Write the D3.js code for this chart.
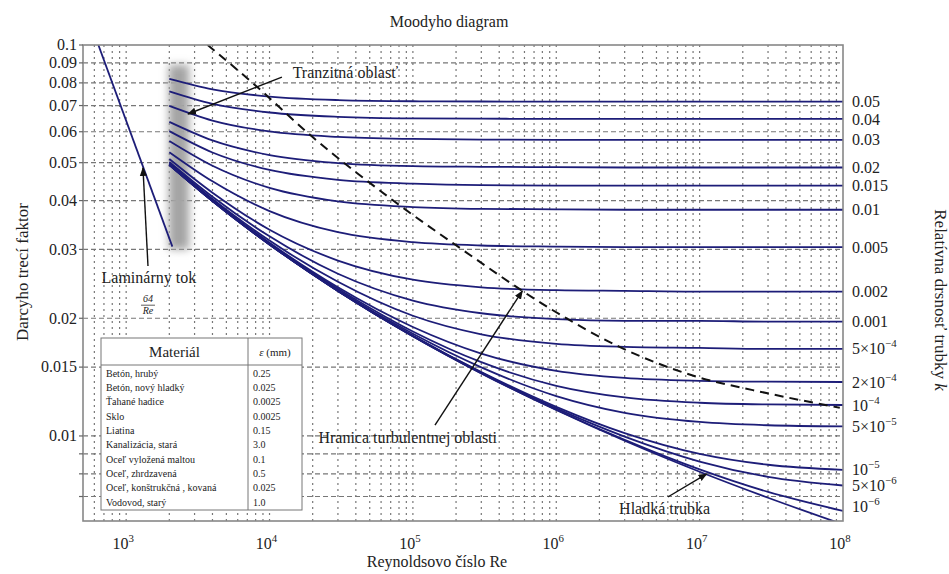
<!DOCTYPE html>
<html>
<head>
<meta charset="utf-8">
<script src="https://cdn.jsdelivr.net/npm/d3@7"></script>
<style>
  body { margin: 0; background: #fff; }
  svg text { font-family: "Liberation Serif", "Times New Roman", Times, "DejaVu Serif", serif; fill: #222; }
</style>
</head>
<body>
<svg id="chart" width="949" height="574" font-family="Liberation Serif, Times New Roman, serif"></svg>
<script>
/* global d3 */

const reynolds = [2000, 4000, 1e4, 3e4, 1e5, 3e5, 1e6, 3e6, 1e7, 3e7, 1e8];

// relative roughness labels (right side), top to bottom
const roughLabels = ["0.05", "0.04", "0.03", "0.02", "0.015", "0.01", "0.005", "0.002", "0.001",
    "5×10^-4", "2×10^-4", "10^-4", "5×10^-5", "10^-5", "5×10^-6", "10^-6"];

// friction factor read for each roughness curve
const fRough = [
    [0.0819, 0.0770, 0.0738, 0.0723, 0.0718, 0.0717, 0.0716, 0.0716, 0.0716, 0.0716, 0.0716],
    [0.0761, 0.0707, 0.0672, 0.0655, 0.0649, 0.0648, 0.0647, 0.0647, 0.0647, 0.0647, 0.0647],
    [0.0699, 0.0641, 0.0601, 0.0582, 0.0575, 0.0573, 0.0572, 0.0572, 0.0572, 0.0572, 0.0572],
    [0.0636, 0.0570, 0.0523, 0.0499, 0.0490, 0.0488, 0.0487, 0.0486, 0.0486, 0.0486, 0.0486],
    [0.0602, 0.0531, 0.0479, 0.0452, 0.0442, 0.0438, 0.0437, 0.0437, 0.0437, 0.0437, 0.0437],
    [0.0568, 0.0491, 0.0431, 0.0398, 0.0385, 0.0381, 0.0380, 0.0379, 0.0379, 0.0379, 0.0379],
    [0.0532, 0.0448, 0.0376, 0.0332, 0.0313, 0.0307, 0.0305, 0.0304, 0.0304, 0.0304, 0.0304],
    [0.0511, 0.0419, 0.0337, 0.0281, 0.0251, 0.0240, 0.0236, 0.0235, 0.0234, 0.0234, 0.0234],
    [0.0502, 0.0409, 0.0324, 0.0260, 0.0222, 0.0206, 0.0199, 0.0197, 0.0197, 0.0196, 0.0196],
    [0.0498, 0.0404, 0.0316, 0.0248, 0.0203, 0.0182, 0.0172, 0.0169, 0.0168, 0.0167, 0.0167],
    [0.0496, 0.0401, 0.0312, 0.0240, 0.0190, 0.01625, 0.01468, 0.01408, 0.01384, 0.01377, 0.01374],
    [0.0495, 0.0400, 0.0310, 0.0238, 0.0185, 0.01544, 0.01344, 0.01255, 0.01216, 0.01204, 0.0120],
    [0.0495, 0.0400, 0.0310, 0.0236, 0.01825, 0.01498, 0.01265, 0.01146, 0.01086, 0.01065, 0.01058],
    [0.0494, 0.0399, 0.0309, 0.0235, 0.01804, 0.01457, 0.01187, 0.01017, 0.0090, 0.00844, 0.00819],
    [0.0494, 0.0399, 0.0309, 0.0235, 0.0180, 0.01452, 0.01176, 0.00996, 0.0086, 0.00786, 0.00747],
    [0.0494, 0.0399, 0.0309, 0.0235, 0.0180, 0.01447, 0.01167, 0.00977, 0.00821, 0.00719, 0.00643]
];

// smooth pipe
const fSmooth = [0.0494, 0.0399, 0.0309, 0.0235, 0.0180, 0.01446, 0.01165, 0.00972, 0.0081, 0.00695, 0.00594];

// laminar 64/Re
const laminarRe = [640, 2100];
const laminarF = [0.1, 0.0305];

// boundary of full turbulence (dashed)
const boundaryRe = [3700, 7500, 19700, 71000, 220000, 940000, 2.76e6, 1e7, 2.35e7, 9.5e7];
const boundaryF = [0.1, 0.0804, 0.0584, 0.0403, 0.030, 0.021, 0.0169, 0.0141, 0.0131, 0.0118];

// transition zone
const bandRe = [1980, 2750];
const bandF = [0.03, 0.089];

// axis ticks
const yTickValues = [0.1, 0.09, 0.08, 0.07, 0.06, 0.05, 0.04, 0.03, 0.02, 0.015, 0.01];
const yGridValues = [0.09, 0.08, 0.07, 0.06, 0.05, 0.04, 0.03, 0.02, 0.015, 0.01, 0.009, 0.008, 0.007];
const xDecades = [1e3, 1e4, 1e5, 1e6, 1e7, 1e8];

// material table
const materials = ["Betón, hrubý", "Betón, nový hladký", "Ťahané hadice", "Sklo", "Liatina",
    "Kanalizácia, stará", "Oceľ vyložená maltou", "Oceľ, zhrdzavená", "Oceľ, konštrukčná , kovaná", "Vodovod, starý"];
const epsMm = ["0.25", "0.025", "0.0025", "0.0025", "0.15", "3.0", "0.1", "0.5", "0.025", "1.0"];

// annotations: [Re, f] anchors
const annotations = [
    { text: "Tranzitná oblasť", at: [14500, 0.0853], anchor: "start", from: [12200, 0.0828], to: [2700, 0.0666] },
    { text: "Laminárny tok", at: [1440, 0.0255], anchor: "middle", from: [1420, 0.0272], to: [1310, 0.0485] },
    { text: "Hranica turbulentnej oblasti", at: [92000, 0.00994], anchor: "middle", from: [142600, 0.01066], to: [580000, 0.0235] },
    { text: "Hladká trubka", at: [5.7e6, 0.00654], anchor: "middle", from: [6.0e6, 0.00698], to: [1.12e7, 0.0080] }
];

const svg = d3.select("#chart");
const margin = { left: 83, right: 843, top: 45, bottom: 521 };

const x = d3.scaleLog().domain([500, 1e8]).range([margin.left, margin.right]);
const y = d3.scaleLog().domain([0.00606, 0.1]).range([margin.bottom, margin.top]);

const curveColor = "#1d1d78";

const defs = svg.append("defs");
defs.append("clipPath").attr("id", "plotClip")
    .append("rect")
    .attr("x", margin.left).attr("y", margin.top)
    .attr("width", margin.right - margin.left).attr("height", margin.bottom - margin.top);
defs.append("filter").attr("id", "blur")
    .attr("x", "-50%").attr("y", "-20%").attr("width", "200%").attr("height", "140%")
    .append("feGaussianBlur").attr("stdDeviation", 4);
defs.append("marker").attr("id", "arrow")
    .attr("viewBox", "0 0 10 10").attr("refX", 9).attr("refY", 5)
    .attr("markerWidth", 9).attr("markerHeight", 9).attr("orient", "auto-start-reverse")
    .attr("markerUnits", "userSpaceOnUse")
    .append("path").attr("d", "M0,1 L10,5 L0,9 Z").attr("fill", "#111");

// grid
const grid = svg.append("g");
const minorX = [];
for (let e = 2; e <= 7; e++) {
    for (let m = 1; m <= 9; m++) {
        const v = m * Math.pow(10, e);
        if (v > 500 && v < 1e8) minorX.push(v);
    }
}
grid.selectAll(".vgrid").data(minorX).enter().append("line")
    .attr("x1", d => x(d)).attr("x2", d => x(d))
    .attr("y1", margin.top).attr("y2", margin.bottom)
    .attr("stroke", "#777").attr("stroke-width", 1.2)
    .attr("stroke-dasharray", "2,4");
grid.selectAll(".hgrid").data(yGridValues).enter().append("line")
    .attr("x1", margin.left).attr("x2", margin.right)
    .attr("y1", d => y(d)).attr("y2", d => y(d))
    .attr("stroke", "#777").attr("stroke-width", 1.2)
    .attr("stroke-dasharray", "5,3");

// transition band
svg.append("rect")
    .attr("x", x(bandRe[0])).attr("width", x(bandRe[1]) - x(bandRe[0]))
    .attr("y", y(bandF[1])).attr("height", y(bandF[0]) - y(bandF[1]))
    .attr("fill", "#a4a4a4")
    .attr("filter", "url(#blur)");

const plot = svg.append("g").attr("clip-path", "url(#plotClip)");

const line = d3.line()
    .x(d => x(d[0]))
    .y(d => y(d[1]))
    .curve(d3.curveMonotoneX);

fRough.concat([fSmooth]).forEach(vals => {
    plot.append("path")
        .attr("d", line(reynolds.map((re, i) => [re, vals[i]])))
        .attr("fill", "none")
        .attr("stroke", curveColor)
        .attr("stroke-width", 1.8);
});

plot.append("path")
    .attr("d", line(laminarRe.map((re, i) => [re, laminarF[i]])))
    .attr("fill", "none").attr("stroke", curveColor).attr("stroke-width", 1.8);

plot.append("path")
    .attr("d", line(boundaryRe.map((re, i) => [re, boundaryF[i]])))
    .attr("fill", "none").attr("stroke", "#111").attr("stroke-width", 2)
    .attr("stroke-dasharray", "9,6");

// frame
svg.append("rect")
    .attr("x", margin.left).attr("y", margin.top)
    .attr("width", margin.right - margin.left).attr("height", margin.bottom - margin.top)
    .attr("fill", "none").attr("stroke", "#888").attr("stroke-width", 1.6);

// superscript helper, "5×10^-4"
function supText(sel, str, size) {
    const parts = str.split("^");
    sel.append("tspan").text(parts[0]);
    if (parts.length > 1) {
        sel.append("tspan")
            .attr("dy", -7)
            .attr("font-size", size * 0.68)
            .text(parts[1].replace("-", "−"));
    }
}

// y ticks
svg.selectAll(".ytick").data(yTickValues).enter().append("text")
    .attr("x", margin.left - 6).attr("y", d => y(d))
    .attr("dy", "0.33em").attr("text-anchor", "end")
    .attr("font-size", 16)
    .text(d => d3.format("~g")(d));
svg.selectAll(".ytickmark").data(yGridValues.concat([0.1])).enter().append("line")
    .attr("x1", margin.left - 4).attr("x2", margin.left)
    .attr("y1", d => y(d)).attr("y2", d => y(d))
    .attr("stroke", "#666").attr("stroke-width", 1.2);

// x ticks
xDecades.forEach(d => {
    const t = svg.append("text")
        .attr("x", x(d) - 3).attr("y", 549)
        .attr("text-anchor", "middle")
        .attr("font-size", 16);
    supText(t, "10^" + Math.round(Math.log10(d)), 16);
});

// right roughness labels
fRough.forEach((vals, i) => {
    const t = svg.append("text")
        .attr("x", margin.right + 9)
        .attr("y", Math.min(y(vals[vals.length - 1]), 506))
        .attr("dy", "0.35em")
        .attr("font-size", 16);
    supText(t, roughLabels[i], 16);
});

// titles
svg.append("text").attr("x", 449).attr("y", 27).attr("text-anchor", "middle")
    .attr("font-size", 16).text("Moodyho diagram");
svg.append("text").attr("x", 437).attr("y", 567).attr("text-anchor", "middle")
    .attr("font-size", 16).text("Reynoldsovo číslo  Re");
svg.append("text").attr("transform", "translate(28,272) rotate(-90)")
    .attr("text-anchor", "middle").attr("font-size", 17)
    .text("Darcyho trecí faktor");
const rlab = svg.append("text").attr("transform", "translate(935,300) rotate(90)")
    .attr("text-anchor", "middle").attr("font-size", 17);
rlab.append("tspan").text("Relatívna drsnosť trubky   ");
rlab.append("tspan").attr("font-style", "italic").text("k");

// annotations
annotations.forEach(a => {
    svg.append("line")
        .attr("x1", x(a.from[0])).attr("y1", y(a.from[1]))
        .attr("x2", x(a.to[0])).attr("y2", y(a.to[1]))
        .attr("stroke", "#111").attr("stroke-width", 1.4)
        .attr("marker-end", "url(#arrow)");
    svg.append("text")
        .attr("x", x(a.at[0])).attr("y", y(a.at[1]))
        .attr("dy", "0.35em").attr("text-anchor", a.anchor)
        .attr("font-size", 16)
        .text(a.text);
});

// 64/Re fraction
const fracX = x(1420), fracY = y(0.0216);
svg.append("text").attr("x", fracX).attr("y", fracY - 3).attr("text-anchor", "middle")
    .attr("font-size", 10).attr("font-style", "italic").text("64");
svg.append("line").attr("x1", fracX - 7).attr("x2", fracX + 7)
    .attr("y1", fracY).attr("y2", fracY).attr("stroke", "#333").attr("stroke-width", 0.8);
svg.append("text").attr("x", fracX).attr("y", fracY + 9).attr("text-anchor", "middle")
    .attr("font-size", 10).attr("font-style", "italic").text("Re");

// material table
const table = svg.append("g");
const tb = { x0: 101, x1: 302, xMid: 248, y0: 338, y1: 510, head: 365 };
table.append("rect")
    .attr("x", tb.x0).attr("y", tb.y0)
    .attr("width", tb.x1 - tb.x0).attr("height", tb.y1 - tb.y0)
    .attr("fill", "#fff").attr("stroke", "#777").attr("stroke-width", 1);
table.append("line").attr("x1", tb.xMid).attr("x2", tb.xMid)
    .attr("y1", tb.y0).attr("y2", tb.y1).attr("stroke", "#777");
table.append("line").attr("x1", tb.x0).attr("x2", tb.x1)
    .attr("y1", tb.head).attr("y2", tb.head).attr("stroke", "#777");
table.append("text").attr("x", (tb.x0 + tb.xMid) / 2).attr("y", 357)
    .attr("text-anchor", "middle").attr("font-size", 15).text("Materiál");
const epsHead = table.append("text").attr("x", (tb.xMid + tb.x1) / 2).attr("y", 356)
    .attr("text-anchor", "middle").attr("font-size", 11);
epsHead.append("tspan").attr("font-style", "italic").text("ε");
epsHead.append("tspan").text(" (mm)");

const rowY = d3.scaleLinear().domain([0, materials.length - 1]).range([373, 502]);
table.selectAll(".mat").data(materials).enter().append("text")
    .attr("x", tb.x0 + 5).attr("y", (d, i) => rowY(i)).attr("dy", "0.35em")
    .attr("font-size", 10).text(d => d);
table.selectAll(".eps").data(epsMm).enter().append("text")
    .attr("x", tb.xMid + 5).attr("y", (d, i) => rowY(i)).attr("dy", "0.35em")
    .attr("font-size", 10).text(d => d);
</script>
</body>
</html>
